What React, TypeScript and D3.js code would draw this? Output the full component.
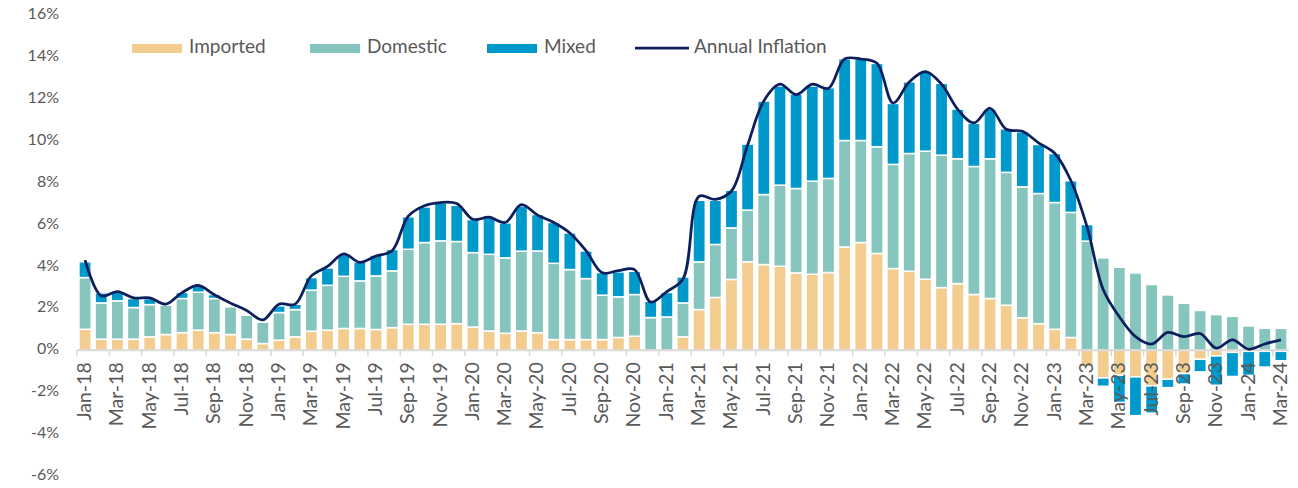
import React from 'react'
import * as d3 from 'd3'

const months = [
  'Jan-18', 'Feb-18', 'Mar-18', 'Apr-18', 'May-18', 'Jun-18', 'Jul-18', 'Aug-18', 'Sep-18', 'Oct-18', 'Nov-18', 'Dec-18',
  'Jan-19', 'Feb-19', 'Mar-19', 'Apr-19', 'May-19', 'Jun-19', 'Jul-19', 'Aug-19', 'Sep-19', 'Oct-19', 'Nov-19', 'Dec-19',
  'Jan-20', 'Feb-20', 'Mar-20', 'Apr-20', 'May-20', 'Jun-20', 'Jul-20', 'Aug-20', 'Sep-20', 'Oct-20', 'Nov-20', 'Dec-20',
  'Jan-21', 'Feb-21', 'Mar-21', 'Apr-21', 'May-21', 'Jun-21', 'Jul-21', 'Aug-21', 'Sep-21', 'Oct-21', 'Nov-21', 'Dec-21',
  'Jan-22', 'Feb-22', 'Mar-22', 'Apr-22', 'May-22', 'Jun-22', 'Jul-22', 'Aug-22', 'Sep-22', 'Oct-22', 'Nov-22', 'Dec-22',
  'Jan-23', 'Feb-23', 'Mar-23', 'Apr-23', 'May-23', 'Jun-23', 'Jul-23', 'Aug-23', 'Sep-23', 'Oct-23', 'Nov-23', 'Dec-23',
  'Jan-24', 'Feb-24', 'Mar-24',
]

const imported = [
  1.0, 0.53, 0.53, 0.53, 0.64, 0.75, 0.84, 0.96, 0.84, 0.75, 0.53, 0.32,
  0.48, 0.64, 0.91, 0.96, 1.04, 1.04, 0.99, 1.08, 1.24, 1.24, 1.24, 1.27,
  1.11, 0.92, 0.81, 0.92, 0.84, 0.51, 0.51, 0.51, 0.51, 0.61, 0.67, 0.0,
  0.0, 0.64, 1.94, 2.52, 3.38, 4.22, 4.09, 4.01, 3.69, 3.63, 3.71, 4.93,
  5.14, 4.62, 3.9, 3.77, 3.39, 2.99, 3.18, 2.66, 2.47, 2.15, 1.55, 1.27,
  1.0, 0.61, -0.8, -1.32, -1.19, -1.27, -1.7, -1.38, -1.11, -0.43, -0.27, -0.1,
  -0.05, -0.05, -0.05,
]

const domestic = [
  2.47, 1.73, 1.83, 1.51, 1.54, 1.4, 1.63, 1.81, 1.63, 1.32, 1.14, 1.03,
  1.32, 1.3, 1.96, 2.14, 2.49, 2.27, 2.56, 2.71, 3.58, 3.9, 3.98, 3.92,
  3.55, 3.66, 3.6, 3.81, 3.9, 3.64, 3.34, 2.91, 2.12, 1.94, 1.99, 1.56,
  1.59, 1.62, 2.28, 2.53, 2.46, 2.47, 3.34, 3.87, 4.03, 4.44, 4.49, 5.08,
  4.87, 5.09, 4.97, 5.62, 6.11, 6.32, 5.96, 6.11, 6.67, 6.34, 6.25, 6.21,
  6.05, 5.97, 5.21, 4.41, 3.96, 3.69, 3.14, 2.64, 2.24, 1.9, 1.7, 1.62,
  1.16, 1.05, 1.05,
]

const mixed = [
  0.75, 0.48, 0.47, 0.43, 0.29, 0.0, 0.29, 0.33, 0.19, 0.0, 0.0, 0.05,
  0.32, 0.26, 0.6, 0.83, 1.05, 0.91, 0.99, 1.02, 1.55, 1.7, 1.81, 1.73,
  1.58, 1.76, 1.67, 2.16, 1.74, 1.95, 1.75, 1.32, 1.08, 1.19, 1.11, 0.78,
  1.17, 1.24, 2.94, 2.11, 1.8, 3.15, 4.46, 4.73, 4.51, 4.54, 4.33, 3.9,
  3.9, 3.98, 2.91, 3.42, 3.79, 3.43, 2.37, 2.06, 2.37, 2.08, 2.63, 2.34,
  2.34, 1.51, 0.79, -0.4, -1.3, -1.85, -1.3, -0.4, -0.5, -0.6, -1.4, -1.15,
  -1.15, -0.75, -0.45,
]

const inflation = [
  4.3, 2.6, 2.8, 2.5, 2.5, 2.2, 2.75, 3.1, 2.65, 2.25, 1.9, 1.45,
  2.2, 2.2, 3.55, 4.0, 4.6, 4.2, 4.5, 4.75, 6.4, 6.9, 7.05, 7.0,
  6.25, 6.35, 6.1, 6.95, 6.45, 6.1, 5.6, 4.75, 3.7, 3.8, 3.85, 2.3,
  2.8, 3.4, 7.35, 7.2, 7.6, 9.8, 11.9, 12.7, 12.2, 12.7, 12.5, 13.9,
  13.9, 13.7, 11.8, 12.8, 13.3, 12.7, 11.5, 10.85, 11.55, 10.55, 10.45, 9.9,
  9.4, 8.1, 5.9, 2.9, 1.6, 0.65, 0.3, 0.85, 0.65, 0.8, 0.1, 0.5,
  0.05, 0.3, 0.5,
]

const yTicks = [-6, -4, -2, 0, 2, 4, 6, 8, 10, 12, 14, 16]

const seriesKeys = ['imported', 'domestic', 'mixed']
const colors = ['#F3CC8F', '#86C5BD', '#0099CC']
const lineColor = '#0B1F5C'
const textColor = '#595959'
const font = 'Lato, "Open Sans", sans-serif'

const W = 1298
const H = 488

export default function App() {
  const x = d3.scaleBand<string>().domain(months).range([77, 1289]).paddingInner(0.24).paddingOuter(0.12)
  const y = d3.scaleLinear().domain([-6, 16]).range([476, 15])

  const rows = months.map((m, i) => ({ month: m, imported: imported[i], domestic: domestic[i], mixed: mixed[i] }))
  const stacked = d3.stack<any>().keys(seriesKeys).offset(d3.stackOffsetDiverging)(rows)

  const cx = (m: string) => (x(m) as number) + x.bandwidth() / 2
  const step = x.step()
  const x0 = 77

  const linePath = d3.line<number>()
    .x((_, i) => cx(months[i]))
    .y((d) => y(d))
    .curve(d3.curveCatmullRom.alpha(0.5))(inflation)

  const legend = [
    { x: 132, label: 'Imported', color: colors[0], type: 'bar' },
    { x: 310, label: 'Domestic', color: colors[1], type: 'bar' },
    { x: 487, label: 'Mixed', color: colors[2], type: 'bar' },
    { x: 635, label: 'Annual Inflation', color: lineColor, type: 'line' },
  ]

  return (
    <svg width={W} height={H} style={{ position: 'absolute', left: 0, top: 0, background: '#fff' }} fontFamily={font}>
      {/* bars */}
      {stacked.map((s, si) => (
        <g key={seriesKeys[si]} fill={colors[si]}>
          {s.map((d, i) => {
            const top = y(Math.max(d[0], d[1]))
            const bot = y(Math.min(d[0], d[1]))
            if (bot - top < 0.01) return null
            return (
              <rect key={i} x={x(months[i])} y={top} width={x.bandwidth()} height={bot - top}
                stroke="#fff" strokeWidth={1.5} />
            )
          })}
        </g>
      ))}

      {/* x axis */}
      <line x1={x0} x2={1289} y1={y(0)} y2={y(0)} stroke="#D9D9D9" strokeWidth={2} />
      {months.map((m, i) => i % 2 === 0 ? (
        <line key={'t' + m} x1={x0 + i * step} x2={x0 + i * step} y1={y(0)} y2={y(0) + 6} stroke="#D9D9D9" strokeWidth={1.5} />
      ) : null)}
      {months.map((m, i) => i % 2 === 0 ? (
        <text key={'l' + m} transform={`translate(${cx(m) + 1},${y(0) + 12}) rotate(-90)`} textAnchor="end"
          dominantBaseline="middle" fontSize={19.5} fill={textColor}>{m}</text>
      ) : null)}

      {/* y labels */}
      {yTicks.map((t) => (
        <text key={t} x={59} y={y(t)} textAnchor="end" dominantBaseline="middle" fontSize={16} fill={textColor}>{`${t}%`}</text>
      ))}

      {/* inflation line */}
      <path d={linePath || ''} fill="none" stroke={lineColor} strokeWidth={2.75} strokeLinejoin="round" />

      {/* legend */}
      {legend.map((l) => (
        <g key={l.label}>
          {l.type === 'bar'
            ? <rect x={l.x} y={44} width={50} height={9} fill={l.color} />
            : <line x1={l.x} x2={l.x + 54} y1={48} y2={48} stroke={l.color} strokeWidth={2.75} />}
          <text x={l.x + (l.type === 'bar' ? 57 : 59)} y={48} dominantBaseline="middle" fontSize={19} fill={textColor}>{l.label}</text>
        </g>
      ))}
    </svg>
  )
}
